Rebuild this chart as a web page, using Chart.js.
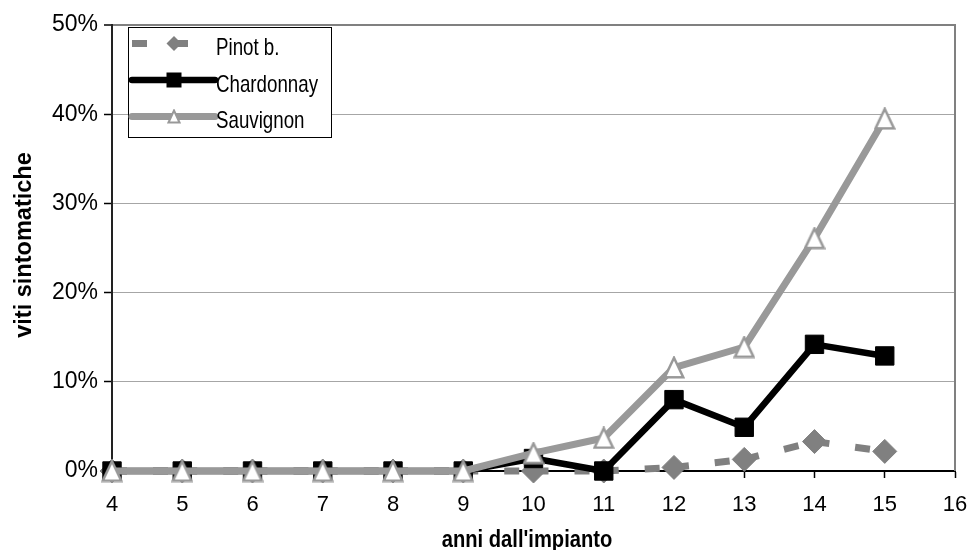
<!DOCTYPE html>
<html>
<head>
<meta charset="utf-8">
<style>
  html, body { margin: 0; padding: 0; background: #fff; }
  #wrap { width: 973px; height: 550px; position: relative; }
</style>
<script src="https://cdn.jsdelivr.net/npm/chart.js@4.4.1/dist/chart.umd.min.js"></script>
</head>
<body>
<div id="wrap"><canvas id="chart" width="973" height="550"></canvas></div>
<script>
// Years since planting and share of symptomatic vines (%)
const years = [4, 5, 6, 7, 8, 9, 10, 11, 12, 13, 14, 15];
const pinotB = [0, 0, 0, 0, 0, 0, 0, 0, 0.4, 1.3, 3.3, 2.2];
const chardonnay = [0, 0, 0, 0, 0, 0, 1.4, 0, 8.0, 4.9, 14.2, 12.9];
const sauvignon = [0, 0, 0, 0, 0, 0, 2.0, 3.7, 11.6, 13.9, 26.1, 39.5];
const seriesNames = ['Pinot b.', 'Chardonnay', 'Sauvignon'];
const xTitle = "anni dall'impianto";
const yTitle = 'viti sintomatiche';

const FONT = '"Liberation Sans", Arial, Helvetica, sans-serif';
const GREY_LIGHT = '#999999';
const GREY_DARK = '#808080';

// open triangle marker (white fill, grey outline)
function triangleCanvas(w, h, lw) {
  const c = document.createElement('canvas');
  c.width = w; c.height = h;
  const g = c.getContext('2d');
  const p = lw / 2 + 0.5;
  g.beginPath();
  g.moveTo(w / 2, p);
  g.lineTo(w - p, h - p);
  g.lineTo(p, h - p);
  g.closePath();
  g.fillStyle = '#ffffff';
  g.fill();
  g.lineWidth = lw;
  g.lineJoin = 'miter';
  g.strokeStyle = GREY_LIGHT;
  g.stroke();
  return c;
}
const triBig = triangleCanvas(22, 23, 2.5);
const triSmall = triangleCanvas(14, 15, 2);

const pts = vals => years.map((x, i) => ({ x: x, y: vals[i] }));

const decor = {
  id: 'decor',
  beforeDatasetsDraw(chart) {
    const { ctx, chartArea: a } = chart;
    ctx.save();
    ctx.strokeStyle = GREY_DARK;
    ctx.lineWidth = 2;
    ctx.beginPath();
    ctx.moveTo(a.right, a.top - 1);
    ctx.lineTo(a.right, a.bottom);
    ctx.stroke();
    ctx.restore();
  },
  afterDraw(chart) {
    const { ctx } = chart;
    ctx.save();
    ctx.fillStyle = '#000';

    // x axis title
    ctx.save();
    ctx.font = 'bold 24px ' + FONT;
    ctx.textAlign = 'center';
    ctx.textBaseline = 'alphabetic';
    ctx.translate(527, 547);
    ctx.scale(0.84, 1);
    ctx.fillText(xTitle, 0, 0);
    ctx.restore();

    // y axis title
    ctx.save();
    ctx.font = 'bold 24px ' + FONT;
    ctx.textAlign = 'center';
    ctx.textBaseline = 'alphabetic';
    ctx.translate(31, 245);
    ctx.rotate(-Math.PI / 2);
    ctx.scale(0.98, 1);
    ctx.fillText(yTitle, 0, 0);
    ctx.restore();

    // legend
    const bx = 128.5, by = 27.5, bw = 203, bh = 110;
    ctx.fillStyle = '#fff';
    ctx.fillRect(bx, by, bw, bh);
    ctx.strokeStyle = '#000';
    ctx.lineWidth = 1;
    ctx.strokeRect(bx, by, bw, bh);

    const x0 = 132, x1 = 215, mx = 174;
    const rows = [43.5, 80, 116.5];
    const ds = chart.data.datasets;
    [0, 1, 2].forEach((di, r) => {
      const d = ds[di];
      const y = rows[r];
      ctx.save();
      ctx.strokeStyle = d.borderColor;
      ctx.lineWidth = d.borderWidth;
      let end = x1;
      if (d.borderDash && d.borderDash.length) {
        ctx.setLineDash(d.borderDash);
        ctx.lineCap = 'butt';
        end = 212;
      } else {
        ctx.lineCap = 'round';
      }
      ctx.beginPath();
      ctx.moveTo(x0, y);
      ctx.lineTo(end, y);
      ctx.stroke();
      ctx.setLineDash([]);
      // marker
      if (d.pointStyle === 'rect') {
        ctx.fillStyle = d.pointBackgroundColor;
        ctx.fillRect(mx - 7.5, y - 7.5, 15, 15);
      } else if (d.pointStyle === 'rectRot') {
        ctx.fillStyle = d.pointBackgroundColor;
        ctx.beginPath();
        ctx.moveTo(mx, y - 7.5);
        ctx.lineTo(mx + 7.5, y);
        ctx.lineTo(mx, y + 7.5);
        ctx.lineTo(mx - 7.5, y);
        ctx.closePath();
        ctx.fill();
      } else {
        ctx.drawImage(triSmall, mx - triSmall.width / 2, y - triSmall.height / 2);
      }
      ctx.restore();

      ctx.save();
      ctx.fillStyle = '#000';
      ctx.font = '24px ' + FONT;
      ctx.textAlign = 'left';
      ctx.textBaseline = 'alphabetic';
      ctx.translate(216, y + 11.5);
      ctx.scale(0.78, 1);
      ctx.fillText(d.label, 0, 0);
      ctx.restore();
    });
    ctx.restore();
  }
};

new Chart(document.getElementById('chart'), {
  type: 'line',
  data: {
    datasets: [
      {
        label: seriesNames[0],
        data: pts(pinotB),
        order: 2,
        borderColor: GREY_DARK,
        borderWidth: 7,
        borderDash: [15, 26],
        borderCapStyle: 'butt',
        pointStyle: 'rectRot',
        pointRadius: 12,
        pointBackgroundColor: GREY_DARK,
        pointBorderColor: GREY_DARK,
        pointBorderWidth: 1,
        segment: {
          // restart the dash pattern at every point
          borderDashOffset: c => c.p0DataIndex * 0.001
        },
        clip: false
      },
      {
        label: seriesNames[1],
        data: pts(chardonnay),
        order: 1,
        borderColor: '#000000',
        borderWidth: 6.5,
        borderJoinStyle: 'round',
        borderCapStyle: 'round',
        pointStyle: 'rect',
        pointRadius: 13,
        pointBackgroundColor: '#000000',
        pointBorderColor: '#000000',
        pointBorderWidth: 1,
        clip: false
      },
      {
        label: seriesNames[2],
        data: pts(sauvignon),
        order: 0,
        borderColor: GREY_LIGHT,
        borderWidth: 7,
        borderJoinStyle: 'round',
        borderCapStyle: 'round',
        pointStyle: triBig,
        pointRadius: 11,
        pointBackgroundColor: '#ffffff',
        pointBorderColor: GREY_LIGHT,
        clip: false
      }
    ]
  },
  options: {
    responsive: false,
    animation: false,
    events: [],
    layout: { padding: { left: 0, right: 15, top: 25, bottom: 0 } },
    plugins: {
      legend: { display: false },
      tooltip: { enabled: false },
      title: { display: false }
    },
    elements: { line: { tension: 0 } },
    scales: {
      x: {
        type: 'linear',
        min: 4,
        max: 16,
        ticks: {
          stepSize: 1,
          color: '#000',
          font: { family: FONT, size: 22 },
          padding: 14,
          maxRotation: 0
        },
        grid: {
          drawOnChartArea: false,
          tickLength: 7,
          tickColor: '#000',
          tickWidth: 1.5
        },
        border: { color: '#000', width: 2 },
        afterFit: s => { s.height = 79; s.paddingLeft = 0; s.paddingRight = 0; }
      },
      y: {
        min: 0,
        max: 50,
        ticks: {
          stepSize: 10,
          color: '#000',
          font: { family: FONT, size: 23 },
          padding: 6,
          callback: v => v + '%'
        },
        grid: {
          color: c => (c.tick && c.tick.value === 50) ? GREY_DARK : '#a6a6a6',
          lineWidth: c => (c.tick && c.tick.value === 50) ? 2 : 1,
          tickLength: 8,
          tickColor: '#000',
          tickWidth: 1.5
        },
        border: { color: '#222', width: 2 },
        afterFit: s => { s.width = 112; s.paddingTop = 0; s.paddingBottom = 0; }
      }
    }
  },
  plugins: [decor]
});
</script>
</body>
</html>
